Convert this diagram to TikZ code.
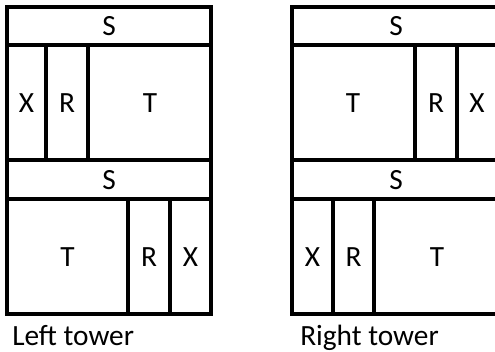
\documentclass[tikz,border=0pt]{standalone}
\usepackage{fontspec}
\setmainfont{Carlito}
\tikzset{
  wall/.style={line width=2.3pt},
  lbl/.style={font=\fontsize{22}{26}\selectfont, inner sep=0pt},
  towername/.style={font=\fontsize{22}{26}\selectfont, inner sep=0pt, anchor=base west}
}
\begin{document}
\begin{tikzpicture}[x=0.75pt,y=-0.75pt]
    \useasboundingbox (0,0) rectangle (495,351);
    % left tower
    \coordinate (LA) at (7,7); \coordinate (LB) at (211,314);
    \draw[wall] (LA) rectangle (LB);
    \draw[wall] (7,45)--(211,45); \draw[wall] (7,160)--(211,160);
    \draw[wall] (7,199)--(211,199);
    \draw[wall] (46,45)--(46,160); \draw[wall] (88,45)--(88,160);
    \draw[wall] (128,199)--(128,314); \draw[wall] (170,199)--(170,314);
    \node[lbl] (ls1) at (109,26) {S}; \node[lbl] (ls2) at (109,180) {S};
    \node[lbl] (lx1) at (26.5,103) {X}; \node[lbl] (lr1) at (67,103) {R};
    \node[lbl] (lt1) at (150,103) {T};
    \node[lbl] (lt2) at (67.5,257) {T}; \node[lbl] (lr2) at (149,257) {R};
    \node[lbl] (lx2) at (190.5,257) {X};
    \node[towername] (lname) at (12,345) {Left tower};
    % right tower
    \coordinate (RA) at (292,7); \coordinate (RB) at (502,314);
    \draw[wall] (RA) rectangle (RB);
    \draw[wall] (292,45)--(502,45); \draw[wall] (292,160)--(502,160);
    \draw[wall] (292,199)--(502,199);
    \draw[wall] (415,45)--(415,160); \draw[wall] (457,45)--(457,160);
    \draw[wall] (333,199)--(333,314); \draw[wall] (374,199)--(374,314);
    \node[lbl] (rs1) at (396,26) {S}; \node[lbl] (rs2) at (396,180) {S};
    \node[lbl] (rt1) at (353,103) {T}; \node[lbl] (rr1) at (436,103) {R};
    \node[lbl] (rx1) at (477,103) {X};
    \node[lbl] (rx2) at (312.5,257) {X}; \node[lbl] (rr2) at (353.5,257) {R};
    \node[lbl] (rt2) at (437,257) {T};
    \node[towername] (rname) at (300,345) {Right tower};
\end{tikzpicture}
\end{document}
